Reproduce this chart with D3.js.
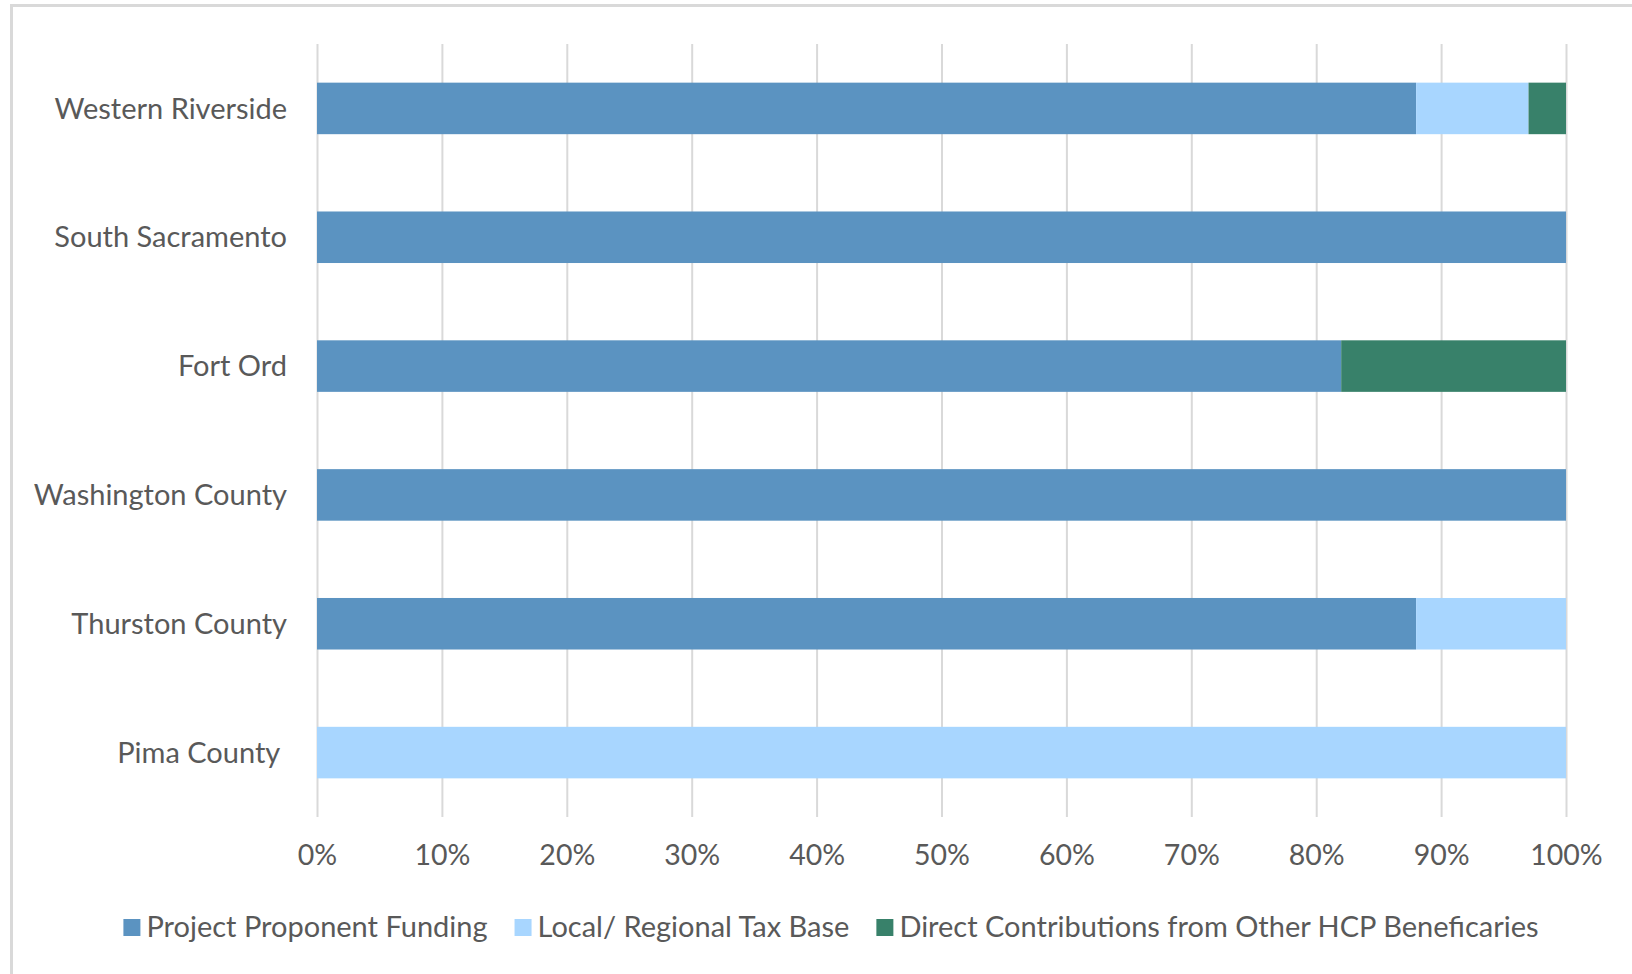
<html>
<head>
<script src="https://cdn.jsdelivr.net/npm/d3@7"></script>
<style>
  body { margin: 0; background: #fff; }
  text { font-family: Lato, "Open Sans", sans-serif; fill: #595959; }
</style>
</head>
<body>
<svg id="chart" width="1632" height="974"></svg>
<script>
// funding sources share per HCP
var categories = ["Western Riverside", "South Sacramento", "Fort Ord", "Washington County", "Thurston County", "Pima County "];
var seriesNames = ["Project Proponent Funding", "Local/ Regional Tax Base", "Direct Contributions from Other HCP Beneficaries"];
var projectFunding = [0.88, 1.00, 0.82, 1.00, 0.88, 0.00];
var localTax       = [0.09, 0.00, 0.00, 0.00, 0.12, 1.00];
var directContrib  = [0.03, 0.00, 0.18, 0.00, 0.00, 0.00];
var tickValues = [0, 0.1, 0.2, 0.3, 0.4, 0.5, 0.6, 0.7, 0.8, 0.9, 1.0];
var colors = ["#5b93c1", "#a8d6ff", "#38816a"];

var rows = categories.map(function(c, i) {
  return { name: c, s0: projectFunding[i], s1: localTax[i], s2: directContrib[i] };
});

var svg = d3.select("#chart");

// chart border (only top / left visible in the picture)
svg.append("path")
  .attr("d", "M11.5,1000 V5.5 H1700")
  .attr("fill", "none")
  .attr("stroke", "#d9d9d9")
  .attr("stroke-width", 3);

var plotL = 317, plotR = 1566, plotT = 44, plotB = 817;

var x = d3.scaleLinear().domain([0, 1]).range([plotL, plotR]);
var y = d3.scaleBand().domain(categories).range([plotT, plotB])
  .paddingInner(0.6).paddingOuter(0.3);

// gridlines
var grid = svg.append("g")
  .attr("transform", "translate(0," + plotB + ")")
  .call(d3.axisBottom(x).tickValues(tickValues).tickSize(-(plotB - plotT)).tickFormat(""));
grid.select(".domain").remove();
grid.selectAll("line").attr("stroke", "#d9d9d9").attr("stroke-width", 2);

// stacked bars
var stack = d3.stack().keys(["s0", "s1", "s2"]);
var layers = stack(rows);

svg.append("g")
  .selectAll("g")
  .data(layers)
  .enter()
  .append("g")
    .attr("fill", function(d, i) { return colors[i]; })
  .selectAll("rect")
  .data(function(d) { return d; })
  .enter()
  .append("rect")
    .attr("x", function(d) { return x(d[0]); })
    .attr("y", function(d) { return y(d.data.name); })
    .attr("width", function(d) { return x(d[1]) - x(d[0]); })
    .attr("height", y.bandwidth());

// x tick labels
var xAxis = svg.append("g")
  .attr("transform", "translate(0," + plotB + ")")
  .call(d3.axisBottom(x).tickValues(tickValues).tickSize(0).tickPadding(0).tickFormat(d3.format(".0%")));
xAxis.select(".domain").remove();
xAxis.selectAll("text")
  .attr("y", 38)
  .attr("dy", "0.35em")
  .attr("font-size", "28.5px")
  .style("font-family", "Lato, sans-serif")
  .attr("fill", "#595959");

// category labels
svg.append("g")
  .selectAll("text")
  .data(categories)
  .enter()
  .append("text")
    .attr("x", 287)
    .attr("y", function(d) { return y(d) + y.bandwidth() / 2; })
    .attr("dy", "0.35em")
    .attr("font-size", "29px")
    .style("text-anchor", "end")
    .style("white-space", "pre")
    .text(function(d) { return d; });

// legend
var legend = svg.append("g");
var items = legend.selectAll("g")
  .data(seriesNames)
  .enter()
  .append("g");
items.append("rect")
  .attr("width", 17)
  .attr("height", 17)
  .attr("y", 919)
  .attr("fill", function(d, i) { return colors[i]; });
items.append("text")
  .attr("x", 23)
  .attr("y", 927)
  .attr("dy", "0.35em")
  .attr("font-size", "29px")
  .text(function(d) { return d; });

var pos = 0;
items.each(function() {
  var w = d3.select(this).select("text").node().getComputedTextLength();
  d3.select(this).attr("data-x", pos);
  pos += 23 + w + 27;
});
var total = pos - 27;
var start = 831 - total / 2;
items.attr("transform", function() {
  return "translate(" + (start + (+d3.select(this).attr("data-x"))) + ",0)";
});
</script>
</body>
</html>
